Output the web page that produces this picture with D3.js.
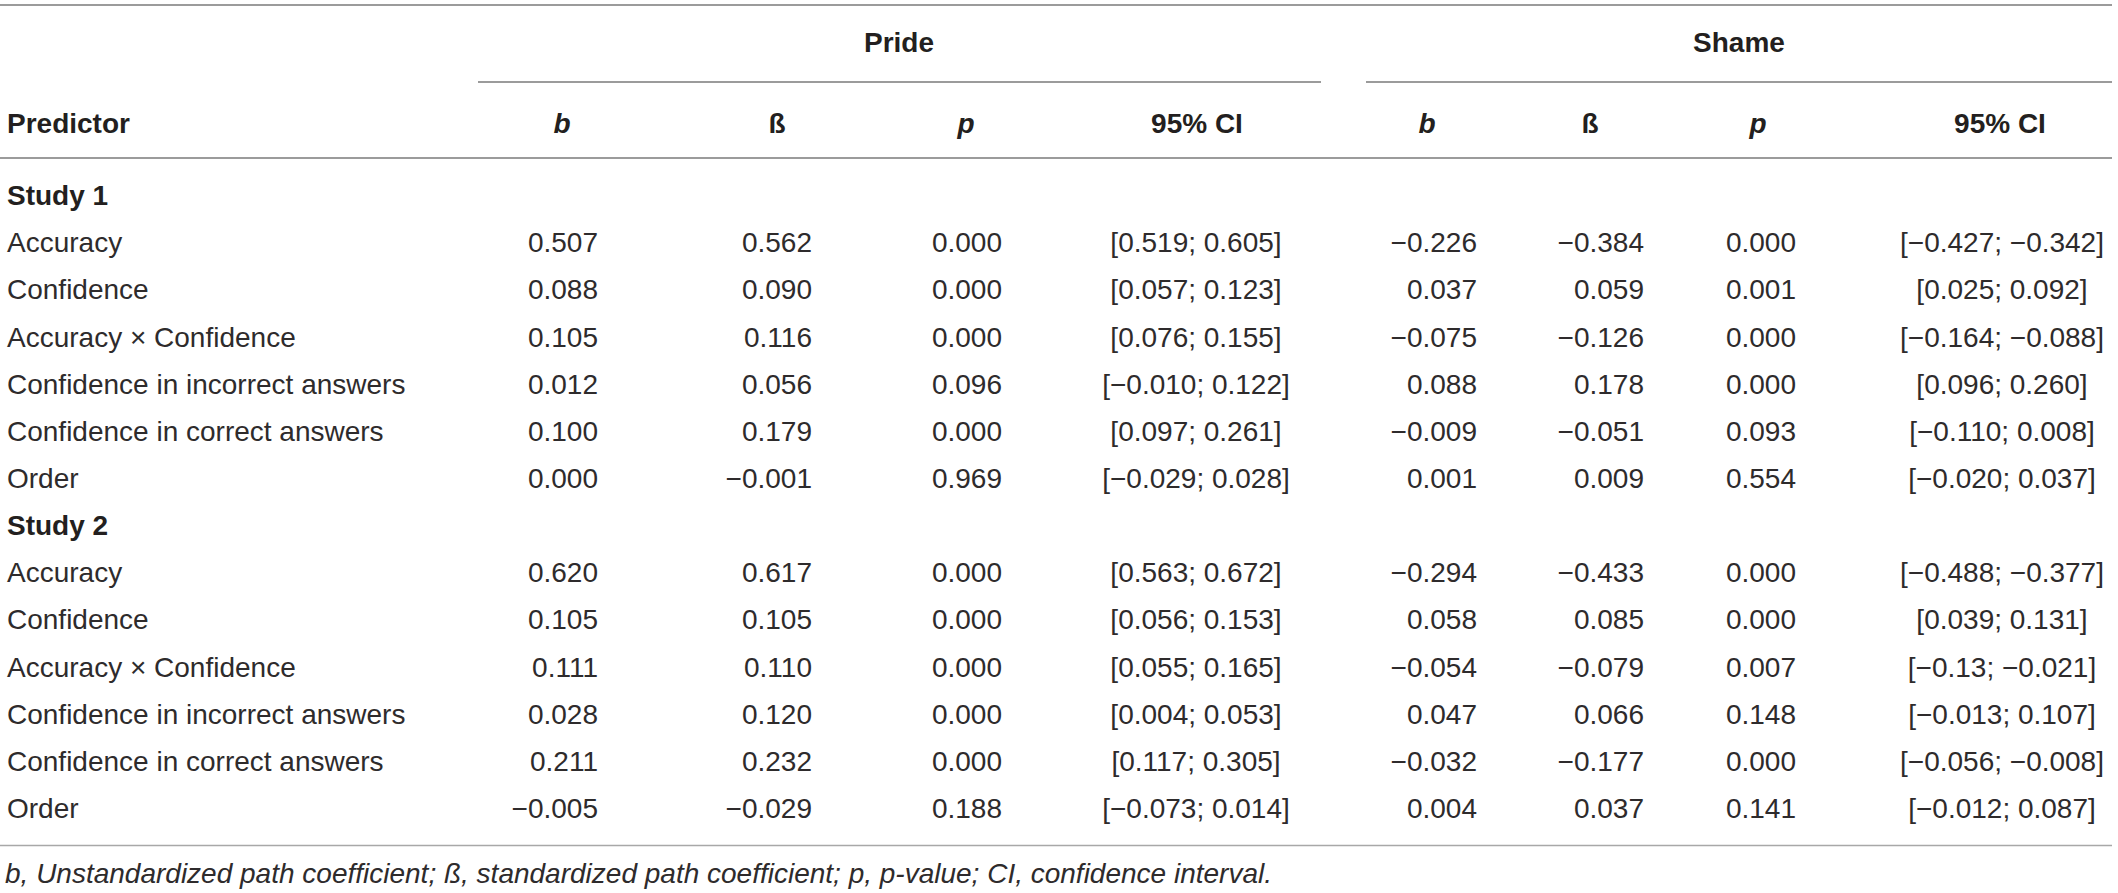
<!DOCTYPE html>
<html>
<head>
<meta charset="utf-8">
<script src="https://cdn.jsdelivr.net/npm/d3@7"></script>
<style>
  html, body { margin: 0; padding: 0; background: #ffffff; }
  svg { display: block; }
</style>
</head>
<body>
<svg id="chart" width="2118" height="893"></svg>
<script>
// ---------- data ----------
const groups = ["Pride", "Shame"];
const columnHeaders = ["b", "ß", "p", "95% CI"];
const studies = ["Study 1", "Study 2"];
const predictors = [
  "Accuracy", "Confidence", "Accuracy × Confidence",
  "Confidence in incorrect answers", "Confidence in correct answers", "Order"
];
// Pride (Study 1 rows then Study 2 rows)
const prideB    = ["0.507","0.088","0.105","0.012","0.100","0.000",
                   "0.620","0.105","0.111","0.028","0.211","−0.005"];
const prideBeta = ["0.562","0.090","0.116","0.056","0.179","−0.001",
                   "0.617","0.105","0.110","0.120","0.232","−0.029"];
const prideP    = ["0.000","0.000","0.000","0.096","0.000","0.969",
                   "0.000","0.000","0.000","0.000","0.000","0.188"];
const prideCI   = ["[0.519; 0.605]","[0.057; 0.123]","[0.076; 0.155]","[−0.010; 0.122]","[0.097; 0.261]","[−0.029; 0.028]",
                   "[0.563; 0.672]","[0.056; 0.153]","[0.055; 0.165]","[0.004; 0.053]","[0.117; 0.305]","[−0.073; 0.014]"];
// Shame
const shameB    = ["−0.226","0.037","−0.075","0.088","−0.009","0.001",
                   "−0.294","0.058","−0.054","0.047","−0.032","0.004"];
const shameBeta = ["−0.384","0.059","−0.126","0.178","−0.051","0.009",
                   "−0.433","0.085","−0.079","0.066","−0.177","0.037"];
const shameP    = ["0.000","0.001","0.000","0.000","0.093","0.554",
                   "0.000","0.000","0.007","0.148","0.000","0.141"];
const shameCI   = ["[−0.427; −0.342]","[0.025; 0.092]","[−0.164; −0.088]","[0.096; 0.260]","[−0.110; 0.008]","[−0.020; 0.037]",
                   "[−0.488; −0.377]","[0.039; 0.131]","[−0.13; −0.021]","[−0.013; 0.107]","[−0.056; −0.008]","[−0.012; 0.087]"];
const footnote = [
  "b", ", Unstandardized path coefficient; ",
  "ß", ", standardized path coefficient; ",
  "p", ", p-value; CI, confidence interval."
];

// ---------- layout ----------
const W = 2118, H = 893;
const FS = 28;
const textColor = "#231f20";
const bodyColor = "#2e2b2c";
const fontFamily = "'Liberation Sans', Arial, Helvetica, sans-serif";

const svg = d3.select("#chart");
svg.append("rect").attr("width", W).attr("height", H).attr("fill", "#fff");

// build the row list
const rows = [];
studies.forEach((s, si) => {
  rows.push({type: "study", label: s});
  predictors.forEach((p, pi) => {
    const k = si * predictors.length + pi;
    rows.push({type: "data", label: p, vals: [
      prideB[k], prideBeta[k], prideP[k], prideCI[k],
      shameB[k], shameBeta[k], shameP[k], shameCI[k]
    ]});
  });
});

// scales
const y = d3.scalePoint().domain(d3.range(rows.length)).range([195, 808]);
const colKeys = ["pb","pbeta","pp","pci","sb","sbeta","sp","sci"];
const xCell = d3.scaleOrdinal().domain(colKeys)
  .range([598, 812, 1002, 1196, 1477, 1644, 1796, 2002]);
const anchorOf = d3.scaleOrdinal().domain(colKeys)
  .range(["end","end","end","middle","end","end","end","middle"]);
const xHead = d3.scaleOrdinal().domain(colKeys)
  .range([562, 777, 966, 1197, 1427, 1590, 1758, 2000]);
const xGroup = d3.scaleOrdinal().domain(groups).range([899, 1739]);
const groupSpan = d3.scaleOrdinal().domain(groups).range([[478, 1321], [1366, 2112]]);
const base = d => d + FS * 0.36;

// rules
const rules = [
  {x1: 0, x2: 2112, y: 5, c: "#7a7a7a"},
  {x1: 0, x2: 2112, y: 158, c: "#7a7a7a"},
  {x1: 0, x2: 2112, y: 845.5, c: "#a8a8a8"}
];
groups.forEach(g => rules.push({x1: groupSpan(g)[0], x2: groupSpan(g)[1], y: 82, c: "#7a7a7a"}));
svg.selectAll("line.rule").data(rules).join("line")
  .attr("class", "rule")
  .attr("x1", d => d.x1).attr("x2", d => d.x2)
  .attr("y1", d => d.y).attr("y2", d => d.y)
  .attr("stroke", d => d.c).attr("stroke-width", 1.6);

// group headers
svg.selectAll("text.group").data(groups).join("text")
  .attr("class", "group")
  .attr("x", d => xGroup(d)).attr("y", base(42))
  .attr("text-anchor", "middle")
  .attr("font-family", fontFamily).attr("font-size", FS).attr("font-weight", "bold")
  .attr("fill", textColor).text(d => d);

// column headers
svg.append("text")
  .attr("x", 7).attr("y", base(123))
  .attr("font-family", fontFamily).attr("font-size", FS).attr("font-weight", "bold")
  .attr("fill", textColor).text("Predictor");

const headData = colKeys.map((k, i) => ({k, t: columnHeaders[i % 4]}));
svg.selectAll("text.colhead").data(headData).join("text")
  .attr("class", "colhead")
  .attr("x", d => xHead(d.k)).attr("y", base(123))
  .attr("text-anchor", "middle")
  .attr("font-family", fontFamily).attr("font-size", FS).attr("font-weight", "bold")
  .attr("font-style", d => (d.t === "b" || d.t === "p") ? "italic" : "normal")
  .attr("fill", textColor).text(d => d.t);

// body rows
const rowG = svg.selectAll("g.row").data(rows).join("g")
  .attr("class", "row")
  .attr("transform", (d, i) => `translate(0,${base(y(i))})`);

rowG.append("text")
  .attr("x", 7).attr("y", 0)
  .attr("font-family", fontFamily).attr("font-size", FS)
  .attr("font-weight", d => d.type === "study" ? "bold" : "normal")
  .attr("fill", d => d.type === "study" ? textColor : bodyColor)
  .text(d => d.label);

rowG.filter(d => d.type === "data").selectAll("text.cell")
  .data(d => d.vals.map((v, j) => ({v, k: colKeys[j]})))
  .join("text")
  .attr("class", "cell")
  .attr("x", d => xCell(d.k)).attr("y", 0)
  .attr("text-anchor", d => anchorOf(d.k))
  .attr("font-family", fontFamily).attr("font-size", FS)
  .attr("fill", bodyColor).text(d => d.v);

// footnote
const fn = svg.append("text")
  .attr("x", 5).attr("y", base(873))
  .attr("font-family", fontFamily).attr("font-size", FS)
  .attr("font-style", "italic").attr("fill", bodyColor);
fn.selectAll("tspan").data(footnote).join("tspan").text(d => d);
</script>
</body>
</html>
